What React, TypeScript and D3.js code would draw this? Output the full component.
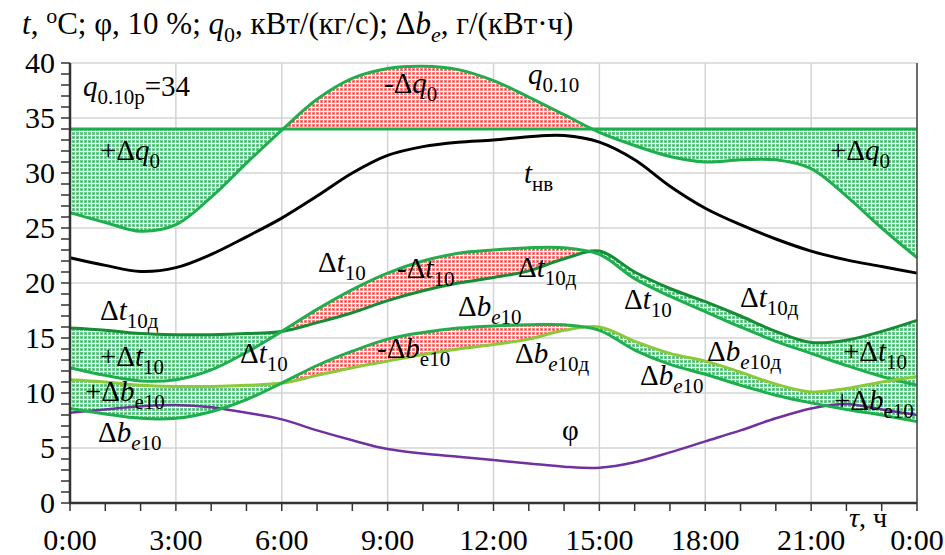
import * as d3 from "d3";

// hour of the day (0..24)
const hours = [0, 1, 2, 3, 4, 5, 6, 7, 8, 9, 10, 11, 12, 13, 14, 15, 16, 17, 18, 19, 20, 21, 22, 23, 24];

// q0.10, кВт/(кг/с)
const q010 = [26.4, 25.5, 24.7, 25.3, 27.8, 30.9, 33.9, 36.7, 38.6, 39.5, 39.7, 39.4, 38.4, 36.9, 35.3, 33.7, 32.5, 31.5, 31.0, 31.2, 31.2, 30.4, 27.9, 25.0, 22.3];
const q010Design = 34;
// t нв, °C
const tNv = [22.3, 21.6, 21.05, 21.4, 22.6, 24.2, 25.9, 27.9, 30.0, 31.6, 32.4, 32.8, 33.0, 33.3, 33.4, 32.8, 31.2, 28.8, 26.8, 25.3, 24.0, 22.9, 22.1, 21.5, 20.9];
// Δt10д and Δt10
const dt10d = [15.9, 15.7, 15.4, 15.3, 15.3, 15.4, 15.6, 16.4, 17.3, 18.4, 19.3, 20.0, 20.5, 21.1, 22.2, 22.9, 21.0, 19.5, 18.3, 17.0, 15.6, 14.6, 14.8, 15.6, 16.6];
const dt10 = [12.3, 11.6, 11.1, 11.2, 12.1, 13.7, 15.6, 17.6, 19.4, 20.9, 22.0, 22.7, 23.0, 23.2, 23.2, 22.6, 20.4, 18.8, 17.4, 16.0, 14.7, 13.6, 12.5, 11.5, 10.7];
// Δbe10д and Δbe10
const dbe10d = [11.2, 11.0, 10.7, 10.6, 10.6, 10.7, 10.9, 11.6, 12.3, 12.9, 13.5, 14.0, 14.4, 14.9, 15.7, 16.0, 14.7, 13.6, 12.9, 11.9, 10.8, 10.1, 10.4, 11.0, 11.5];
const dbe10 = [8.6, 8.1, 7.7, 7.7, 8.3, 9.4, 10.9, 12.5, 13.8, 14.9, 15.5, 15.9, 16.1, 16.2, 16.2, 15.7, 13.9, 12.6, 11.7, 10.7, 9.8, 9.1, 8.5, 8.0, 7.4];
// φ, 10 %
const phi = [8.2, 8.5, 8.8, 8.9, 8.7, 8.2, 7.6, 6.6, 5.7, 4.9, 4.5, 4.2, 3.9, 3.6, 3.3, 3.2, 3.7, 4.6, 5.6, 6.6, 7.7, 8.6, 9.0, 8.5, 8.0];

const yTicks = [0, 5, 10, 15, 20, 25, 30, 35, 40];
const xTicks = [0, 3, 6, 9, 12, 15, 18, 21, 24];
const xTickLabels = ["0:00", "3:00", "6:00", "9:00", "12:00", "15:00", "18:00", "21:00", "0:00"];

const W = 945;
const H = 555;
const FONT = "Liberation Serif, DejaVu Serif, serif";

const GREEN = "#1fae4e";
const DARK_GREEN = "#168c34";
const LIGHT_GREEN = "#8cc83c";

type Part = { t: string; i?: boolean; sub?: boolean; sup?: boolean };
const D: Part = { t: "Δ" };
const it = (t: string): Part => ({ t, i: true });
const sub = (t: string, i = false): Part => ({ t, sub: true, i });

const labels: { x: number; y: number; parts: Part[] }[] = [
  { x: 83, y: 96, parts: [it("q"), sub("0.10р"), { t: "=34" }] },
  { x: 384, y: 93, parts: [{ t: "-" }, D, it("q"), sub("0")] },
  { x: 528, y: 84, parts: [it("q"), sub("0.10")] },
  { x: 100, y: 160, parts: [{ t: "+" }, D, it("q"), sub("0")] },
  { x: 830, y: 160, parts: [{ t: "+" }, D, it("q"), sub("0")] },
  { x: 524, y: 183, parts: [it("t"), sub("нв")] },
  { x: 318, y: 272, parts: [D, it("t"), sub("10")] },
  { x: 397, y: 278, parts: [{ t: "-" }, D, it("t"), sub("10")] },
  { x: 518, y: 277, parts: [D, it("t"), sub("10д")] },
  { x: 100, y: 320, parts: [D, it("t"), sub("10д")] },
  { x: 458, y: 316, parts: [D, it("b"), sub("e", true), sub("10")] },
  { x: 624, y: 309, parts: [D, it("t"), sub("10")] },
  { x: 740, y: 307, parts: [D, it("t"), sub("10д")] },
  { x: 100, y: 366, parts: [{ t: "+" }, D, it("t"), sub("10")] },
  { x: 240, y: 363, parts: [D, it("t"), sub("10")] },
  { x: 377, y: 358, parts: [{ t: "-" }, D, it("b"), sub("e10")] },
  { x: 515, y: 363, parts: [D, it("b"), sub("e", true), sub("10д")] },
  { x: 707, y: 361, parts: [D, it("b"), sub("e", true), sub("10д")] },
  { x: 640, y: 385, parts: [D, it("b"), sub("e", true), sub("10")] },
  { x: 843, y: 361, parts: [{ t: "+" }, D, it("t"), sub("10")] },
  { x: 85, y: 401, parts: [{ t: "+" }, D, it("b"), sub("e10")] },
  { x: 834, y: 410, parts: [{ t: "+" }, D, it("b"), sub("e10")] },
  { x: 98, y: 442, parts: [D, it("b"), sub("e", true), sub("10")] },
  { x: 562, y: 440, parts: [{ t: "φ" }] },
];

const Label = ({ x, y, parts, size = 29 }: { x: number; y: number; parts: Part[]; size?: number }) => {
  const subSize = Math.round(size * 0.72);
  const shift = Math.round(size * 0.26);
  let cur = 0;
  return (
    <text x={x} y={y} style={{ fontFamily: FONT }} fontSize={size} fill="#000">
      {parts.map((p, k) => {
        const target = p.sub ? shift : p.sup ? -Math.round(size * 0.35) : 0;
        const dy = target - cur;
        cur = target;
        return (
          <tspan
            key={k}
            dy={dy}
            fontSize={p.sub || p.sup ? subSize : size}
            fontStyle={p.i ? "italic" : "normal"}
          >
            {p.t}
          </tspan>
        );
      })}
    </text>
  );
};

export default function App() {
  const x = d3.scaleLinear().domain([0, 24]).range([70, 917]);
  const y = d3.scaleLinear().domain([0, 40]).range([503, 63]);
  const curve = d3.curveCatmullRom.alpha(0.5);

  const line = (vals: number[]) =>
    d3
      .line<number>()
      .x((_, i) => x(hours[i]))
      .y((d) => y(d))
      .curve(curve)(vals) as string;

  const band = (a: number[], b: number[]) =>
    d3
      .area<number>()
      .x((_, i) => x(hours[i]))
      .y0((d) => y(d))
      .y1((_, i) => y(b[i]))
      .curve(curve)(a) as string;

  const below = (vals: number[]) =>
    d3
      .area<number>()
      .x((_, i) => x(hours[i]))
      .y0(y(0))
      .y1((d) => y(d))
      .curve(curve)(vals) as string;

  const above = (vals: number[]) =>
    d3
      .area<number>()
      .x((_, i) => x(hours[i]))
      .y0(y(40))
      .y1((d) => y(d))
      .curve(curve)(vals) as string;

  const designLine = hours.map(() => q010Design);
  const minorY = d3.range(0, 41);
  const minorX = d3.range(0, 25);

  return (
    <>
      <style>{"body{margin:0}"}</style>
      <svg width={W} height={H} viewBox={`0 0 ${W} ${H}`} style={{ display: "block", background: "#fff" }}>
        <defs>
          <pattern id="patG" width={4} height={4} patternUnits="userSpaceOnUse">
            <rect width={4} height={4} fill="#ffffff" />
            <rect width={3} height={3} fill="#6ccb8d" />
            <rect x={1} y={1} width={1} height={1} fill="#2fa95a" />
          </pattern>
          <pattern id="patR" width={4} height={4} patternUnits="userSpaceOnUse">
            <rect width={4} height={4} fill="#ffffff" />
            <rect width={3} height={3} fill="#f58585" />
            <rect x={1} y={1} width={1} height={1} fill="#ee2b2b" />
          </pattern>
          <clipPath id="clipQBelow">
            <rect x={x(0)} y={y(q010Design)} width={x(24) - x(0)} height={y(0) - y(q010Design)} />
          </clipPath>
          <clipPath id="clipQAbove">
            <rect x={x(0)} y={y(40) - 20} width={x(24) - x(0)} height={y(q010Design) - y(40) + 20} />
          </clipPath>
          <clipPath id="clipTBelow">
            <path d={below(dt10d)} />
          </clipPath>
          <clipPath id="clipTAbove">
            <path d={above(dt10d)} />
          </clipPath>
          <clipPath id="clipBBelow">
            <path d={below(dbe10d)} />
          </clipPath>
          <clipPath id="clipBAbove">
            <path d={above(dbe10d)} />
          </clipPath>
        </defs>

        {/* grid */}
        {yTicks.map((t) => (
          <line key={"gy" + t} x1={x(0)} x2={x(24)} y1={y(t)} y2={y(t)} stroke="#d4d4d4" strokeWidth={1.5} />
        ))}
        {xTicks.map((t) => (
          <line key={"gx" + t} x1={x(t)} x2={x(t)} y1={y(0)} y2={y(40)} stroke="#d4d4d4" strokeWidth={1.5} />
        ))}

        {/* filled differences */}
        <path d={band(q010, designLine)} fill="url(#patG)" clipPath="url(#clipQBelow)" />
        <path d={band(q010, designLine)} fill="url(#patR)" clipPath="url(#clipQAbove)" />
        <path d={band(dt10, dt10d)} fill="url(#patG)" clipPath="url(#clipTBelow)" />
        <path d={band(dt10, dt10d)} fill="url(#patR)" clipPath="url(#clipTAbove)" />
        <path d={band(dbe10, dbe10d)} fill="url(#patG)" clipPath="url(#clipBBelow)" />
        <path d={band(dbe10, dbe10d)} fill="url(#patR)" clipPath="url(#clipBAbove)" />

        {/* lines */}
        <path d={line(phi)} fill="none" stroke="#7030a0" strokeWidth={2.5} />
        <path d={line(tNv)} fill="none" stroke="#000" strokeWidth={3} />
        <path d={line(designLine)} fill="none" stroke={GREEN} strokeWidth={3} />
        <path d={line(q010)} fill="none" stroke={GREEN} strokeWidth={3} />
        <path d={line(dt10d)} fill="none" stroke={DARK_GREEN} strokeWidth={3} />
        <path d={line(dt10)} fill="none" stroke={GREEN} strokeWidth={3} />
        <path d={line(dbe10d)} fill="none" stroke={LIGHT_GREEN} strokeWidth={3} />
        <path d={line(dbe10)} fill="none" stroke={GREEN} strokeWidth={3} />

        {/* axes */}
        <line x1={x(24)} x2={x(24)} y1={y(0)} y2={y(40)} stroke="#444" strokeWidth={1.5} />
        {minorY.map((t) => (
          <line key={"ty" + t} x1={x(0) - 9} x2={x(0)} y1={y(t)} y2={y(t)} stroke="#333" strokeWidth={1.5} />
        ))}
        {minorX.map((t) => (
          <line key={"tx" + t} x1={x(t)} x2={x(t)} y1={y(0)} y2={y(0) + 8} stroke="#333" strokeWidth={1.5} />
        ))}
        <line x1={x(0)} x2={x(0)} y1={y(0) + 1} y2={y(40)} stroke="#333" strokeWidth={2.5} />
        <line x1={x(0) - 1} x2={x(24)} y1={y(0)} y2={y(0)} stroke="#333" strokeWidth={2.5} />

        {yTicks.map((t) => (
          <text key={"ly" + t} x={55} y={y(t) + 10} textAnchor="end" style={{ fontFamily: FONT }} fontSize={30}>
            {t}
          </text>
        ))}
        {xTicks.map((t, i) => (
          <text key={"lx" + t} x={x(t)} y={550} textAnchor="middle" style={{ fontFamily: FONT }} fontSize={30}>
            {xTickLabels[i]}
          </text>
        ))}
        <Label x={849} y={527} size={28} parts={[it("τ"), { t: ", ч" }]} />

        {/* title */}
        <Label
          x={22}
          y={34}
          size={31}
          parts={[
            it("t"),
            { t: ", " },
            { t: "o", sup: true },
            { t: "C; φ, 10 %; " },
            it("q"),
            sub("0"),
            { t: ", кВт/(кг/с); Δ" },
            it("b"),
            sub("e", true),
            { t: ", г/(кВт·ч)" },
          ]}
        />

        {labels.map((l, k) => (
          <Label key={k} x={l.x} y={l.y} parts={l.parts} />
        ))}
      </svg>
    </>
  );
}
